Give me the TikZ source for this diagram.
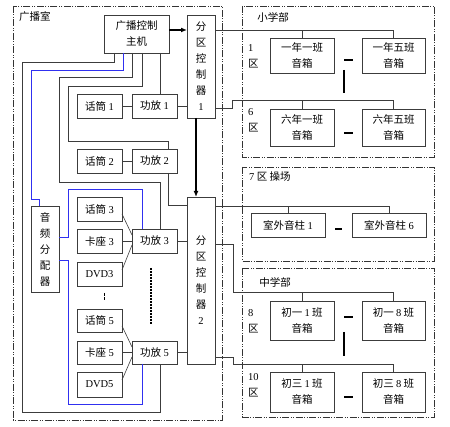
\documentclass[tikz,border=0pt]{standalone}
\usepackage{fontspec}
\setmainfont{Noto Sans CJK SC}
\newfontfamily\lat{Liberation Serif}
\usetikzlibrary{arrows.meta}
\definecolor{ln}{HTML}{3C3C3C}
\definecolor{bl}{HTML}{3030F0}
\tikzset{
  box/.style={draw=ln, line width=0.9pt, inner sep=0pt, outer sep=0pt, align=center,
    font=\fontsize{10.5}{16}\selectfont},
  wire/.style={draw=ln, line width=0.8pt},
  bwire/.style={draw=bl, line width=0.8pt},
  frame/.style={draw=black!80, line width=0.9pt,
    dash pattern=on 7pt off 1.5pt on 1pt off 1.5pt on 1pt off 1.5pt},
  lbl/.style={inner sep=0pt, font=\fontsize{10.5}{12}\selectfont},
  arr/.style={draw=black, line width=1.2pt, -{Latex[length=6pt,width=5pt]}},
  sep/.style={draw=black, line width=1.4pt},
}
\newcommand\mkbox[6]{\node[box, minimum width={#4-#2}, minimum height={#5-#3}] (#1) at ({(#2+#4)/2},{(#3+#5)/2}) {#6};}
\begin{document}
\begin{tikzpicture}[x=1pt,y=-1pt]
\useasboundingbox (0,0) rectangle (450,427);
% frames
\draw[frame] (13,6) rectangle (222,420);
\draw[frame] (242,6) rectangle (434,157);
\draw[frame] (242,167) rectangle (434,261);
\draw[frame] (242,268) rectangle (434,417);
\node[lbl, anchor=west] (troom) at (19,17) {广播室};
\node[lbl] (tprim) at (273,17) {小学部};
\node[lbl, anchor=west] (tz7) at (249,177) {{\lat 7} 区 操场};
\node[lbl] (tmid) at (275,282) {中学部};
\node[lbl, anchor=west] (t1) at (248,48) {\lat 1};
\node[lbl, anchor=west] (t1q) at (248,64) {区};
\node[lbl, anchor=west] (t6) at (248,112) {\lat 6};
\node[lbl, anchor=west] (t6q) at (248,128) {区};
\node[lbl, anchor=west] (t8) at (248,313) {\lat 8};
\node[lbl, anchor=west] (t8q) at (248,329) {区};
\node[lbl, anchor=west] (t10) at (248,377) {\lat 10};
\node[lbl, anchor=west] (t10q) at (248,393) {区};
% boxes left
\mkbox{host}{104}{15}{169}{53}{广播控制\\主机}
\mkbox{zone1}{187}{15}{215}{118}{分\\区\\控\\制\\器\\{\lat 1}}
\mkbox{mic1}{77}{94}{122}{118}{话筒 {\lat 1}}
\mkbox{amp1}{132}{94}{177}{118}{功放 {\lat 1}}
\mkbox{mic2}{77}{149}{122}{173}{话筒 {\lat 2}}
\mkbox{amp2}{132}{149}{177}{173}{功放 {\lat 2}}
\mkbox{dist}{31}{206}{59}{292}{音\\频\\分\\配\\器}
\mkbox{mic3}{77}{197}{122}{221}{话筒 {\lat 3}}
\mkbox{kz3}{77}{229}{122}{253}{卡座 {\lat 3}}
\mkbox{dvd3}{77}{262}{122}{286}{\lat DVD3}
\mkbox{amp3}{132}{229}{177}{253}{功放 {\lat 3}}
\mkbox{mic5}{77}{309}{122}{332}{话筒 {\lat 5}}
\mkbox{kz5}{77}{341}{122}{364}{卡座 {\lat 5}}
\mkbox{dvd5}{77}{372}{122}{397}{\lat DVD5}
\mkbox{amp5}{132}{341}{177}{364}{功放 {\lat 5}}
\mkbox{zone2}{187}{197}{215}{364}{分\\区\\控\\制\\器\\{\lat 2}}
% boxes right
\mkbox{b11}{270}{38}{334}{73}{一年一班\\音箱}
\mkbox{b15}{362}{38}{425}{73}{一年五班\\音箱}
\mkbox{b61}{270}{109}{334}{146}{六年一班\\音箱}
\mkbox{b65}{362}{109}{425}{146}{六年五班\\音箱}
\mkbox{o1}{251}{213}{325}{237}{室外音柱 {\lat 1}}
\mkbox{o6}{352}{213}{426}{237}{室外音柱 {\lat 6}}
\mkbox{m11}{270}{301}{334}{340}{初一 {\lat 1} 班\\音箱}
\mkbox{m18}{362}{301}{425}{340}{初一 {\lat 8} 班\\音箱}
\mkbox{m31}{270}{372}{334}{412}{初三 {\lat 1} 班\\音箱}
\mkbox{m38}{362}{372}{425}{412}{初三 {\lat 8} 班\\音箱}
% host wiring
\draw[arr] (host.east |- 0,30) -- (zone1.west |- 0,30);
\draw[arr] (196,0 |- zone1.south) -- (196,0 |- zone2.north);
\draw[wire] (114,0 |- host.south) |- (22,62) |- (160,412) -- (160,0 |- amp5.south);
\draw[bwire] (123,0 |- host.south) |- (31,70) |- (39,199) -- (39,0 |- dist.north);
\draw[wire] (132,0 |- host.south) |- (59,77) |- (160,182) -- (160,0 |- amp3.north);
\draw[wire] (142,0 |- host.south) |- (68,86) |- (168,141) -- (168,0 |- amp2.north);
\draw[wire] (160,0 |- host.south) -- (160,0 |- amp1.north);
% distributor
\draw[bwire] (dist.east |- 0,237) -| (68,189) -| (142,0 |- amp3.north);
\draw[bwire] (dist.east |- 0,260) -| (68,404) -| (142,0 |- amp5.south);
% sources to amps
\draw[wire] (mic1.east) -- (amp1.west);
\draw[wire] (mic2.east) -- (amp2.west);
\draw[wire, line width=0.6pt] (mic3.east |- 0,214) -- (amp3.west |- 0,235);
\draw[wire] (kz3.east) -- (amp3.west);
\draw[wire, line width=0.6pt] (dvd3.east |- 0,270) -- (amp3.west |- 0,245);
\draw[wire, line width=0.6pt] (mic5.east |- 0,326) -- (amp5.west |- 0,347);
\draw[wire] (kz5.east) -- (amp5.west);
\draw[wire, line width=0.6pt] (dvd5.east |- 0,380) -- (amp5.west |- 0,357);
% amps to zone controllers
\draw[wire] (amp1.east) -- (zone1.west |- amp1.east);
\draw[wire] (168,0 |- amp2.south) |- (zone2.west |- 0,205);
\draw[wire] (amp3.east) -- (zone2.west |- amp3.east);
\draw[wire] (amp5.east) -- (zone2.west |- amp5.east);
% zone1 outputs
\draw[wire] (zone1.east |- 0,30) -| (b15.north);
\draw[wire] (b11.north) -- (b11.north |- 0,30);
\draw[wire] (zone1.east |- 0,108) -| (232,100) -| (b65.north);
\draw[wire] (b61.north) -- (b61.north |- 0,100);
% zone2 outputs
\draw[wire] (zone2.east |- 0,206) -| (o6.north);
\draw[wire] (o1.north) -- (o1.north |- 0,206);
\draw[wire] (zone2.east |- 0,244) -| (233,292) -| (m18.north);
\draw[wire] (m11.north) -- (m11.north |- 0,292);
\draw[wire] (zone2.east |- 0,357) -| (233,364) -| (m38.north);
\draw[wire] (m31.north) -- (m31.north |- 0,364);
% ellipsis marks
\draw[sep] (344,60) -- (353,60);
\draw[sep] (344,70) -- (344,93);
\draw[sep] (344,133) -- (353,133);
\draw[sep] (335,229) -- (342,229);
\draw[sep] (344,317) -- (353,317);
\draw[sep] (344,332) -- (344,356);
\draw[sep] (344,397) -- (353,397);
\draw[draw=black, line width=1.3pt, dash pattern=on 2pt off 1pt] (151,268) -- (151,324);
\draw[draw=black, line width=0.8pt, dash pattern=on 3pt off 1.5pt] (104,293) -- (104,302);
\end{tikzpicture}
\end{document}
